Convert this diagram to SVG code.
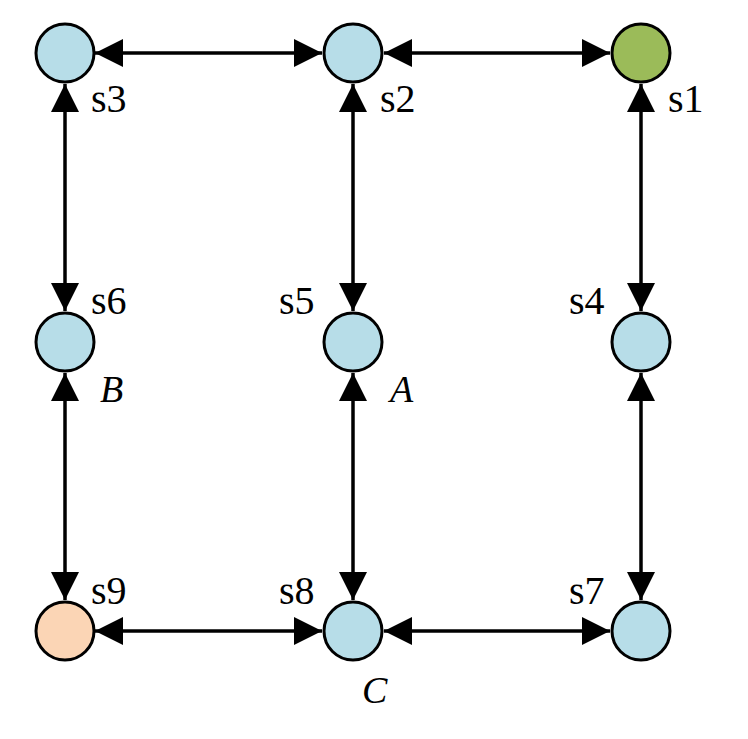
<svg xmlns="http://www.w3.org/2000/svg" width="748" height="739" viewBox="0 0 748 739">
<style>
.n{stroke:#000;stroke-width:3}
.b{fill:#b7dde8}
.l{font-family:"Liberation Serif","DejaVu Serif","Times New Roman",serif;font-size:40px}
.i{font-family:"Liberation Serif","DejaVu Serif","Times New Roman",serif;font-size:38px;font-style:italic}
.c{stroke:#000;stroke-width:3.5;fill:none;marker-start:url(#a);marker-end:url(#a)}
</style>
<defs><marker id="a" viewBox="0 0 10 10" refX="10" refY="5" markerWidth="28" markerHeight="30" markerUnits="userSpaceOnUse" orient="auto-start-reverse"><path d="M0,0L10,5L0,10z"/></marker></defs>
<rect width="748" height="739" fill="#fff"/>
<g id="connectors">
<path class="c" d="M95,53H322"/>
<path class="c" d="M384,53H610"/>
<path class="c" d="M95,631H322"/>
<path class="c" d="M384,631H610"/>
<path class="c" d="M65,84V311"/>
<path class="c" d="M65,373V600"/>
<path class="c" d="M353,84V311"/>
<path class="c" d="M353,373V600"/>
<path class="c" d="M641,84V311"/>
<path class="c" d="M641,373V600"/>
</g>
<g id="s3"><circle class="n b" cx="65" cy="53" r="29"/><text class="l" x="91" y="112">s3</text></g>
<g id="s2"><circle class="n b" cx="353" cy="53" r="29"/><text class="l" x="380" y="112">s2</text></g>
<g id="s1"><circle class="n" fill="#9bbb59" cx="641" cy="53" r="29"/><text class="l" x="668" y="112">s1</text></g>
<g id="s6"><circle class="n b" cx="65" cy="342" r="29"/><text class="l" x="91" y="314">s6</text><text class="i" x="100" y="402">B</text></g>
<g id="s5"><circle class="n b" cx="353" cy="342" r="29"/><text class="l" x="279" y="314">s5</text><text class="i" x="390" y="402">A</text></g>
<g id="s4"><circle class="n b" cx="641" cy="342" r="29"/><text class="l" x="569" y="314">s4</text></g>
<g id="s9"><circle class="n" fill="#fbd5b5" cx="65" cy="631" r="29"/><text class="l" x="91" y="604">s9</text></g>
<g id="s8"><circle class="n b" cx="353" cy="631" r="29"/><text class="l" x="279" y="604">s8</text><text class="i" x="362" y="703">C</text></g>
<g id="s7"><circle class="n b" cx="641" cy="631" r="29"/><text class="l" x="569" y="604">s7</text></g>
</svg>
